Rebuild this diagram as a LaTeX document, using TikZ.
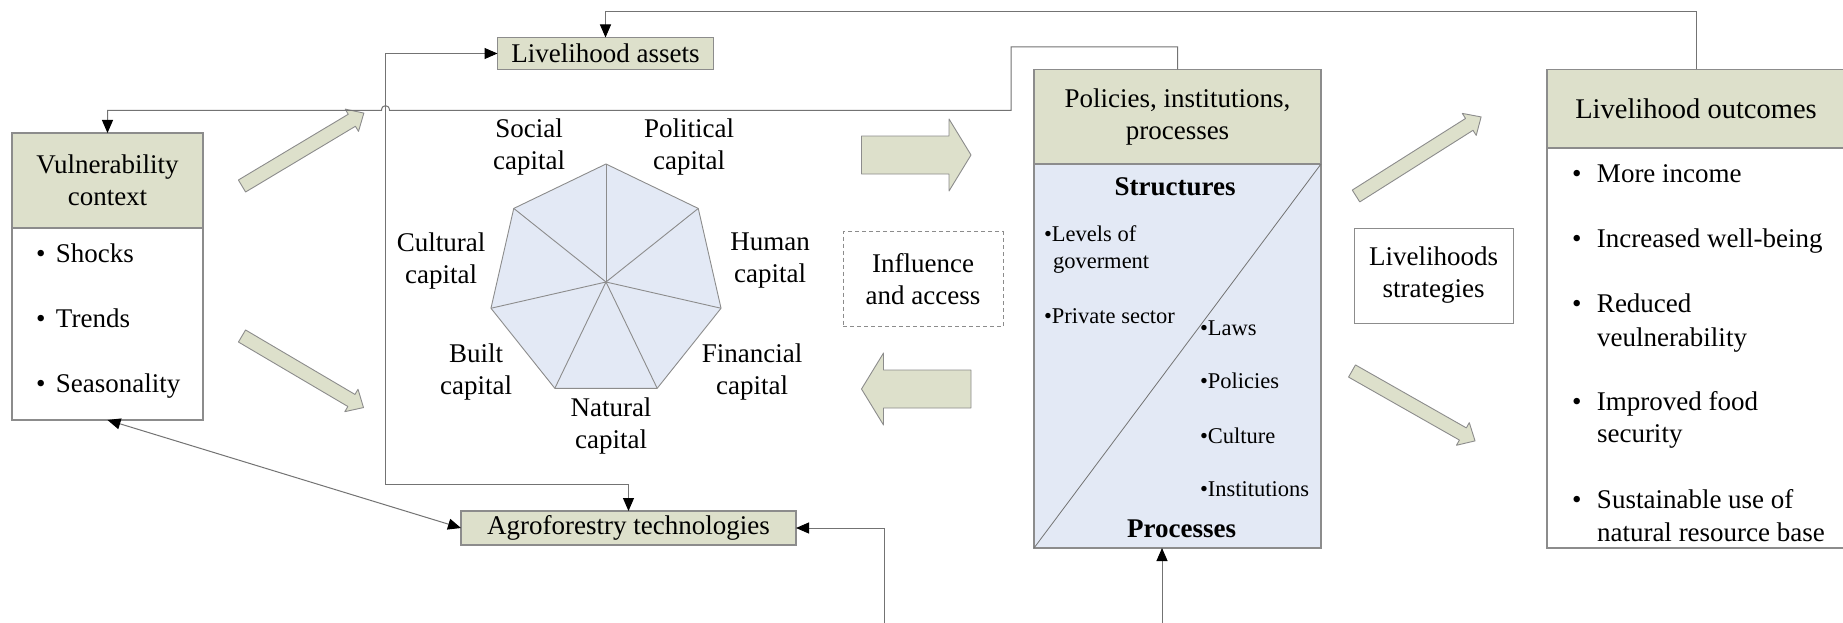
\documentclass[tikz,border=0pt]{standalone}
\usepackage{fontspec}
\setmainfont{LiberationSerif}[Extension=.ttf, UprightFont=*-Regular, BoldFont=*-Bold, ItalicFont=*-Italic, BoldItalicFont=*-BoldItalic]
\usetikzlibrary{arrows.meta,calc}
\definecolor{olivef}{RGB}{221,224,203}
\definecolor{bluef}{RGB}{227,233,245}
\definecolor{boxgray}{RGB}{140,140,140}
\definecolor{linegray}{RGB}{115,115,115}
\newcommand{\myBlockArrow}[7]{%
  \begin{scope}[shift={(#1,#2)},rotate=#3]
    \draw[barrow] (0,-#5) -- ({#4-#7},-#5) -- ({#4-#7},-#6) -- (#4,0) -- ({#4-#7},#6) -- ({#4-#7},#5) -- (0,#5) -- cycle;
  \end{scope}}
\begin{document}
\begin{tikzpicture}[x=1pt,y=-1pt,
  >={Triangle[length=13pt,width=11pt,color=black]},
  every node/.style={font=\fontsize{27}{32}\selectfont, inner sep=0pt, outer sep=0pt},
  box/.style={draw=boxgray, line width=1.1pt, rectangle},
  hdr/.style={box, fill=olivef},
  conn/.style={draw=linegray, line width=1pt},
  barrow/.style={draw=boxgray, fill=olivef, line width=0.9pt, line join=round},
  lbl/.style={align=center},
  small/.style={font=\fontsize{22.5}{28}\selectfont},
  bold/.style={font=\fontsize{27}{32}\selectfont\bfseries},
]
\useasboundingbox (0,0) rectangle (1843,623);
\fill[white] (0,0) rectangle (1843,623);

% Vulnerability context
\node[box, fill=white, minimum width=191pt, minimum height=287pt] (vuln) at (107.5,276.5) {};
\node[hdr, minimum width=191pt, minimum height=95pt, align=center] (vulnh) at (107.5,180.5) {Vulnerability\\context};
\node[anchor=base west] (v1) at (36,262) {\makebox[20pt][l]{\textbullet}Shocks};
\node[anchor=base west] (v2) at (36,327.5) {\makebox[20pt][l]{\textbullet}Trends};
\node[anchor=base west] (v3) at (36,392) {\makebox[20pt][l]{\textbullet}Seasonality};

% Livelihood assets
\node[hdr, minimum width=216pt, minimum height=32pt] (la) at (605.5,53.5) {Livelihood assets};

% Agroforestry
\node[hdr, minimum width=335pt, minimum height=34pt] (agro) at (628.5,528) {Agroforestry technologies};

% Heptagon
\coordinate (hc) at (606,282);
\draw[draw=boxgray, fill=bluef, line width=0.9pt, line join=round]
  ($(hc)+(-90:118)$) \foreach \k in {1,...,6} { -- ($(hc)+({-90+\k*360/7}:118)$) } -- cycle;
\foreach \k in {0,...,6} \draw[draw=boxgray, line width=0.9pt] (hc) -- ($(hc)+({-90+\k*360/7}:118)$);
\node[lbl] (social) at (529,147.5) {Social\\capital};
\node[lbl] (political) at (689,147.5) {Political\\capital};
\node[lbl] (human) at (770,261) {Human\\capital};
\node[lbl] (cultural) at (441,261) {Cultural\\capital};
\node[lbl] (financial) at (752,372) {Financial\\capital};
\node[lbl] (built) at (476,372) {Built\\capital};
\node[lbl] (natural) at (611,426) {Natural\\capital};

% block arrows left
\myBlockArrow{242}{186}{30.9}{142}{7}{13}{14}
\myBlockArrow{242}{336}{-30.5}{141}{7}{13}{14}

% Influence and access
\node[draw=boxgray, dash pattern=on 4pt off 3pt, line width=0.9pt, minimum width=160pt, minimum height=95pt, align=center] (infl) at (923,279) {Influence\\and access};
\myBlockArrow{861.5}{155}{0}{109.5}{19}{36}{22}
\myBlockArrow{971}{389}{180}{109.5}{19}{36}{22}

% PIP
\node[box, fill=bluef, minimum width=287pt, minimum height=478.6pt] (pip) at (1177.5,308.7) {};
\node[hdr, minimum width=287pt, minimum height=94.6pt, align=center] (piph) at (1177.5,116.7) {Policies, institutions,\\processes};
\draw[draw=linegray, line width=0.8pt] (pip.south west) -- (piph.south east);
\node[bold, anchor=base] (struct) at (1175,195.5) {Structures};
\node[small, anchor=base west] (lev) at (1044,241) {\textbullet Levels of};
\node[small, anchor=base west] (gov) at (1053,268) {goverment};
\node[small, anchor=base west] (priv) at (1044,323) {\textbullet Private sector};
\node[small, anchor=base west] (laws) at (1200,335) {\textbullet Laws};
\node[small, anchor=base west] (pol) at (1200,388) {\textbullet Policies};
\node[small, anchor=base west] (cult) at (1200,443) {\textbullet Culture};
\node[small, anchor=base west] (inst) at (1200,496) {\textbullet Institutions};
\node[bold, anchor=base] (proc) at (1181.7,537) {Processes};

% Livelihood strategies
\myBlockArrow{1356}{196}{32.3}{148}{7}{13}{14}
\myBlockArrow{1352}{371}{-29.6}{141.5}{7}{13}{14}
\node[box, line width=0.9pt, minimum width=159pt, minimum height=95pt, align=center] (strat) at (1433.5,275.5) {Livelihoods\\strategies};

% Livelihood outcomes
\node[box, fill=white, minimum width=298pt, minimum height=478.6pt] (lo) at (1696,308.7) {};
\node[hdr, minimum width=298pt, minimum height=78.6pt, font=\fontsize{28.5}{32}\selectfont] (loh) at (1696,108.7) {Livelihood outcomes};
\node[anchor=base west] (o1) at (1572,182) {\makebox[25pt][l]{\textbullet}More income};
\node[anchor=base west] (o2) at (1572,247.6) {\makebox[25pt][l]{\textbullet}Increased well-being};
\node[anchor=base west] (o3) at (1572,312) {\makebox[25pt][l]{\textbullet}Reduced};
\node[anchor=base west] (o3b) at (1597,346) {veulnerability};
\node[anchor=base west] (o4) at (1572,410) {\makebox[25pt][l]{\textbullet}Improved food};
\node[anchor=base west] (o4b) at (1597,442.7) {security};
\node[anchor=base west] (o5) at (1572,508.5) {\makebox[25pt][l]{\textbullet}Sustainable use of};
\node[anchor=base west] (o5b) at (1597,541) {natural resource base};

% connectors
\coordinate (topy) at (0,12);
\draw[conn,->] (lo.north) |- (la.north |- topy) -- (la.north);
\coordinate (vx) at (385.5,484);
\draw[conn,<->] (la.west) -| (vx) -| (agro.north);
\coordinate (pa) at (1011,47);
\coordinate (pb) at (1011,110.5);
\draw[conn,->] (pip.north) |- (pa) -- (pb) -- (389.5,110.5) .. controls (389.5,104) and (381.5,104) .. (381.5,110.5) -- (vuln.north |- pb) -- (vuln.north);
\draw[conn,<->] (vuln.south) -- (agro.west);
\coordinate (asrc) at (884,624);
\draw[conn,->] (asrc) |- (agro.east);
\coordinate (psrc) at (1162,624);
\draw[conn,->] (psrc) -- (pip.south -| psrc);
\end{tikzpicture}
\end{document}
